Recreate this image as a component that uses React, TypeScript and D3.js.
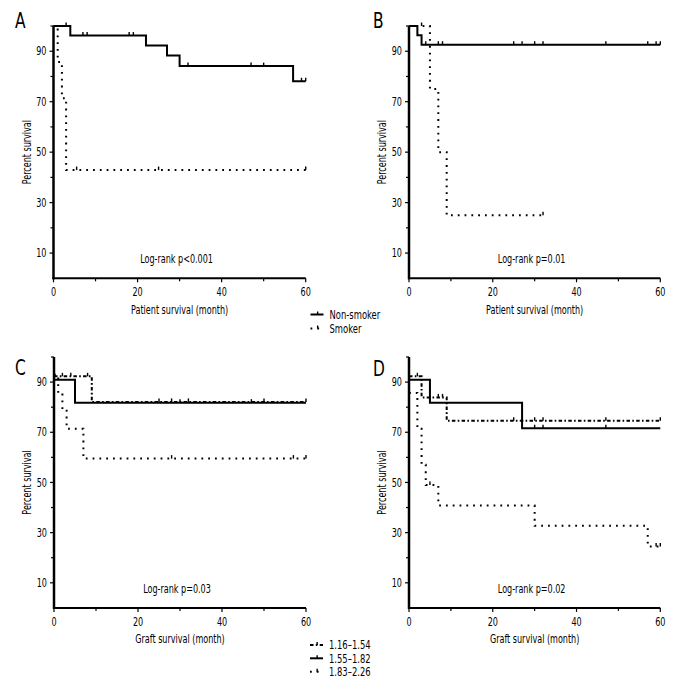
import React from 'react';
import * as d3 from 'd3';

const FONT = "'DejaVu Sans Condensed', 'Liberation Sans Narrow', sans-serif";
const SX = 0.78; // horizontal condensing of text

// Axis ticks
const xMajorTicks = [0, 20, 40, 60];
const xMinorTicks = [10, 30, 50];
const yMajorTicks = [10, 30, 50, 70, 90];
const yMinorTicks = [20, 40, 60, 80, 100];

// Panel A: patient survival by smoking
const aNonSmokerTime = [0, 4, 22, 27, 30, 57, 60];
const aNonSmokerSurv = [100, 96.2, 92.3, 88.3, 84.1, 78.1, 78.1];
const aNonSmokerCensor = [3, 7, 8, 18, 19, 32, 47, 50, 59, 60];
const aSmokerTime = [0, 1, 2, 3, 60];
const aSmokerSurv = [100, 85.7, 71.4, 42.9, 42.9];
const aSmokerCensor = [5.5, 25, 60];

// Panel B
const bNonSmokerTime = [0, 2, 3, 60];
const bNonSmokerSurv = [100, 96.3, 92.6, 92.6];
const bNonSmokerCensor = [4, 7, 8, 25, 27, 30, 32, 47, 57, 59, 60];
const bSmokerTime = [0, 5, 7, 9, 32];
const bSmokerSurv = [100, 75, 50, 25, 25];
const bSmokerCensor = [3, 32];

// Panel C: graft survival by group (1.16–1.54, 1.55–1.82, 1.83–2.26)
const cLowTime = [0, 9, 60];
const cLowSurv = [92.3, 82.1, 82.1];
const cLowCensor = [2, 4, 8, 25, 28, 32, 50, 60];
const cMidTime = [0, 5, 60];
const cMidSurv = [90.9, 81.8, 81.8];
const cMidCensor = [30, 47];
const cHighTime = [0, 1, 2, 3, 7, 60];
const cHighSurv = [92.9, 85.7, 78.6, 71.4, 59.5, 59.5];
const cHighCensor = [28, 57, 60];

// Panel D
const dLowTime = [0, 3, 9, 60];
const dLowSurv = [92.3, 83.9, 74.6, 74.6];
const dLowCensor = [2, 7, 8, 25, 30, 32, 47, 60];
const dMidTime = [0, 5, 27, 60];
const dMidSurv = [90.9, 81.8, 71.6, 71.6];
const dMidCensor = [30, 32, 47];
const dHighTime = [0, 2, 3, 4, 7, 30, 57, 60];
const dHighSurv = [85.7, 71.4, 57.1, 49.0, 40.8, 32.7, 24.5, 24.5];
const dHighCensor = [5, 59, 60];

const smokingLegend = ['Non-smoker', 'Smoker'];
const groupLegend = ['1.16–1.54', '1.55–1.82', '1.83–2.26'];

type LineStyle = 'solid' | 'dotted' | 'dashdot';
const dashFor: Record<LineStyle, string | undefined> = {
  solid: undefined,
  dotted: '1.8 5',
  dashdot: '3.5 2.3 1.6 2.3',
};

interface Series {
  time: number[];
  surv: number[];
  censor: number[];
  style: LineStyle;
}

interface PanelProps {
  letter: string;
  letterX: number;
  letterY: number;
  xLeft: number;
  xRight: number;
  yBottom: number;
  yTop: number;
  xLabel: string;
  logrank: string;
  series: Series[];
}

function T({
  x,
  y,
  size = 11.5,
  anchor = 'start',
  rotate = 0,
  children,
}: {
  x: number;
  y: number;
  size?: number;
  anchor?: string;
  rotate?: number;
  children: React.ReactNode;
}) {
  return (
    <text
      transform={`translate(${x},${y}) rotate(${rotate}) scale(${SX},1)`}
      fontSize={size}
      fontFamily={FONT}
      textAnchor={anchor}
      fill="#000"
    >
      {children}
    </text>
  );
}

function survAt(s: Series, t: number) {
  let v = s.surv[0];
  for (let i = 0; i < s.time.length; i++) if (s.time[i] <= t) v = s.surv[i];
  return v;
}

function Panel(p: PanelProps) {
  const x = d3.scaleLinear().domain([0, 60]).range([p.xLeft, p.xRight]);
  const y = d3.scaleLinear().domain([0, 100]).range([p.yBottom, p.yTop]);
  const line = d3
    .line<[number, number]>()
    .x((d) => x(d[0]))
    .y((d) => y(d[1]))
    .curve(d3.curveStepAfter);
  const midX = (p.xLeft + p.xRight) / 2;
  const midY = (p.yBottom + p.yTop) / 2;
  return (
    <g>
      <T x={p.letterX} y={p.letterY} size={22}>
        {p.letter}
      </T>
      {p.series.map((s, i) => (
        <g key={i}>
          <path
            d={line(s.time.map((t, j) => [t, s.surv[j]] as [number, number])) || ''}
            fill="none"
            stroke="#000"
            strokeWidth={2}
            strokeDasharray={dashFor[s.style]}
          />
          {s.censor.map((c, j) => (
            <line
              key={j}
              x1={x(c)}
              x2={x(c)}
              y1={y(survAt(s, c))}
              y2={y(survAt(s, c)) - 3.5}
              stroke="#000"
              strokeWidth={1.4}
            />
          ))}
        </g>
      ))}
      {/* y axis */}
      <line x1={x(0)} x2={x(0)} y1={y(0) + 1} y2={y(100)} stroke="#000" strokeWidth={2.5} />
      {yMajorTicks.map((t) => (
        <g key={t}>
          <line x1={x(0) - 4} x2={x(0)} y1={y(t)} y2={y(t)} stroke="#000" strokeWidth={1.2} />
          <T x={x(0) - 7} y={y(t) + 4.2} anchor="end">
            {t}
          </T>
        </g>
      ))}
      {yMinorTicks.map((t) => (
        <line key={t} x1={x(0) - 3} x2={x(0)} y1={y(t)} y2={y(t)} stroke="#000" strokeWidth={1.2} />
      ))}
      {/* x axis */}
      <line x1={x(0) - 1} x2={x(60)} y1={y(0)} y2={y(0)} stroke="#000" strokeWidth={2} />
      {xMajorTicks.map((t) => (
        <g key={t}>
          <line x1={x(t)} x2={x(t)} y1={y(0)} y2={y(0) + 4} stroke="#000" strokeWidth={1.2} />
          <T x={x(t)} y={y(0) + 18} anchor="middle">
            {t}
          </T>
        </g>
      ))}
      {xMinorTicks.map((t) => (
        <line key={t} x1={x(t)} x2={x(t)} y1={y(0)} y2={y(0) + 3} stroke="#000" strokeWidth={1.2} />
      ))}
      <T x={midX} y={y(0) + 35.5} anchor="middle">
        {p.xLabel}
      </T>
      <T x={x(0) - 23} y={midY} rotate={-90} anchor="middle">
        Percent survival
      </T>
      <T x={midX - 3} y={y(6)} anchor="middle">
        {p.logrank}
      </T>
    </g>
  );
}

function LegendRow({ x, y, label, style }: { x: number; y: number; label: string; style: LineStyle }) {
  const lx = d3.scaleLinear().domain([0, 1]).range([x, x + 13]);
  return (
    <g>
      <line x1={lx(0)} x2={lx(1)} y1={y} y2={y} stroke="#000" strokeWidth={2} strokeDasharray={dashFor[style]} />
      <line x1={lx(0.55)} x2={lx(0.55)} y1={y} y2={y - 3} stroke="#000" strokeWidth={1.4} />
      <T x={x + 19} y={y + 4.3} size={12}>
        {label}
      </T>
    </g>
  );
}

export default function App() {
  return (
    <svg
      width={696}
      height={696}
      style={{ position: 'absolute', left: 0, top: 0, background: '#fff' }}
    >
      <rect width={696} height={696} fill="#fff" />
      <Panel
        letter="A"
        letterX={15}
        letterY={28}
        xLeft={53.5}
        xRight={305.7}
        yBottom={278.3}
        yTop={26}
        xLabel="Patient survival (month)"
        logrank="Log-rank p<0.001"
        series={[
          { time: aNonSmokerTime, surv: aNonSmokerSurv, censor: aNonSmokerCensor, style: 'solid' },
          { time: aSmokerTime, surv: aSmokerSurv, censor: aSmokerCensor, style: 'dotted' },
        ]}
      />
      <Panel
        letter="B"
        letterX={373}
        letterY={28}
        xLeft={409}
        xRight={660.3}
        yBottom={278.3}
        yTop={26}
        xLabel="Patient survival (month)"
        logrank="Log-rank p=0.01"
        series={[
          { time: bNonSmokerTime, surv: bNonSmokerSurv, censor: bNonSmokerCensor, style: 'solid' },
          { time: bSmokerTime, surv: bSmokerSurv, censor: bSmokerCensor, style: 'dotted' },
        ]}
      />
      <Panel
        letter="C"
        letterX={15}
        letterY={375}
        xLeft={54}
        xRight={306}
        yBottom={607.9}
        yTop={357}
        xLabel="Graft survival (month)"
        logrank="Log-rank p=0.03"
        series={[
          { time: cLowTime, surv: cLowSurv, censor: cLowCensor, style: 'dashdot' },
          { time: cMidTime, surv: cMidSurv, censor: cMidCensor, style: 'solid' },
          { time: cHighTime, surv: cHighSurv, censor: cHighCensor, style: 'dotted' },
        ]}
      />
      <Panel
        letter="D"
        letterX={373}
        letterY={376}
        xLeft={409}
        xRight={660.3}
        yBottom={607.9}
        yTop={357}
        xLabel="Graft survival (month)"
        logrank="Log-rank p=0.02"
        series={[
          { time: dLowTime, surv: dLowSurv, censor: dLowCensor, style: 'dashdot' },
          { time: dMidTime, surv: dMidSurv, censor: dMidCensor, style: 'solid' },
          { time: dHighTime, surv: dHighSurv, censor: dHighCensor, style: 'dotted' },
        ]}
      />
      <LegendRow x={310.5} y={314.5} label={smokingLegend[0]} style="solid" />
      <LegendRow x={310.5} y={328.5} label={smokingLegend[1]} style="dotted" />
      <LegendRow x={310} y={645} label={groupLegend[0]} style="dashdot" />
      <LegendRow x={310} y={658.3} label={groupLegend[1]} style="solid" />
      <LegendRow x={310} y={671.8} label={groupLegend[2]} style="dotted" />
    </svg>
  );
}
